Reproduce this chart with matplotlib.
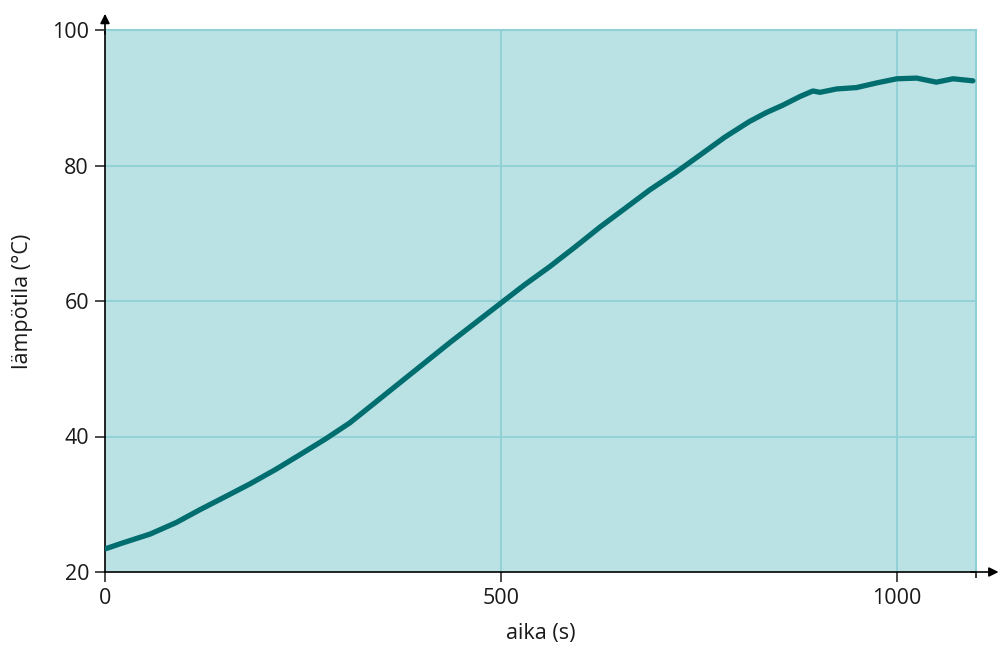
import matplotlib
matplotlib.use("Agg")
import matplotlib.pyplot as plt

# luettu kuvasta: aika (s) ja lämpötila (°C)
aika = [0, 20, 57, 90, 120, 150, 183, 215, 246, 278, 309, 340, 372, 404, 436,
        468, 499, 530, 562, 594, 625, 656, 688, 720, 751, 783, 814, 835, 856,
        878, 894, 903, 924, 949, 975, 1000, 1025, 1050, 1071, 1096]
lampotila = [23.4, 24.2, 25.6, 27.3, 29.2, 31.0, 33.0, 35.1, 37.3, 39.6, 42.0,
             44.9, 47.9, 50.9, 53.9, 56.8, 59.6, 62.4, 65.1, 68.0, 70.9, 73.6,
             76.4, 78.9, 81.5, 84.2, 86.5, 87.8, 88.9, 90.2, 91.0, 90.8, 91.3,
             91.5, 92.2, 92.8, 92.9, 92.3, 92.8, 92.5]

x_ticks = [0, 500, 1000]
y_ticks = [20, 40, 60, 80, 100]

TAUSTA = '#bae2e5'
RUUDUKKO = '#8ed0d4'
VIIVA = '#006d6f'
TEKSTI = '#1a1a1a'

plt.rcParams['font.family'] = ['Open Sans', 'DejaVu Sans']

fig = plt.figure(figsize=(10.02, 6.48), dpi=100)
ax = fig.add_axes([105/1002, 76/648, 871/1002, 542/648])
ax.set_facecolor(TAUSTA)
ax.set_xlim(0, 1100)
ax.set_ylim(20, 100)

for xv in [500, 1000]:
    ax.axvline(xv, color=RUUDUKKO, lw=1.3, zorder=1)
for yv in [40, 60, 80]:
    ax.axhline(yv, color=RUUDUKKO, lw=1.3, zorder=1)

ax.plot(aika, lampotila, color=VIIVA, lw=3.8, solid_capstyle='round',
        solid_joinstyle='round', zorder=3)

ax.spines['top'].set_color(RUUDUKKO)
ax.spines['right'].set_color(RUUDUKKO)
ax.spines['top'].set_linewidth(1.5)
ax.spines['right'].set_linewidth(1.5)
ax.spines['left'].set_linewidth(1.2)
ax.spines['bottom'].set_linewidth(1.2)

ax.set_xticks(x_ticks)
ax.set_yticks(y_ticks)
ax.set_xticks([1100], minor=True)
ax.tick_params(which='major', length=7.5, width=1.1, labelsize=15.5, pad=4,
               colors=TEKSTI)
ax.tick_params(which='minor', axis='x', length=4.5, width=1.1)

# nuolet akseleiden päihin
ax.annotate('', xy=(1132, 20), xytext=(1090, 20), xycoords='data',
            arrowprops=dict(arrowstyle='-|>', color='black', lw=1.2,
                            mutation_scale=14), annotation_clip=False)
ax.annotate('', xy=(0, 102.8), xytext=(0, 99), xycoords='data',
            arrowprops=dict(arrowstyle='-|>', color='black', lw=1.2,
                            mutation_scale=14), annotation_clip=False)

ax.set_xlabel('aika (s)', fontsize=15.5, labelpad=10, color=TEKSTI)
ax.set_ylabel('lämpötila (°C)', fontsize=15.5, labelpad=14, color=TEKSTI)

fig.savefig('out.png', dpi=100)
